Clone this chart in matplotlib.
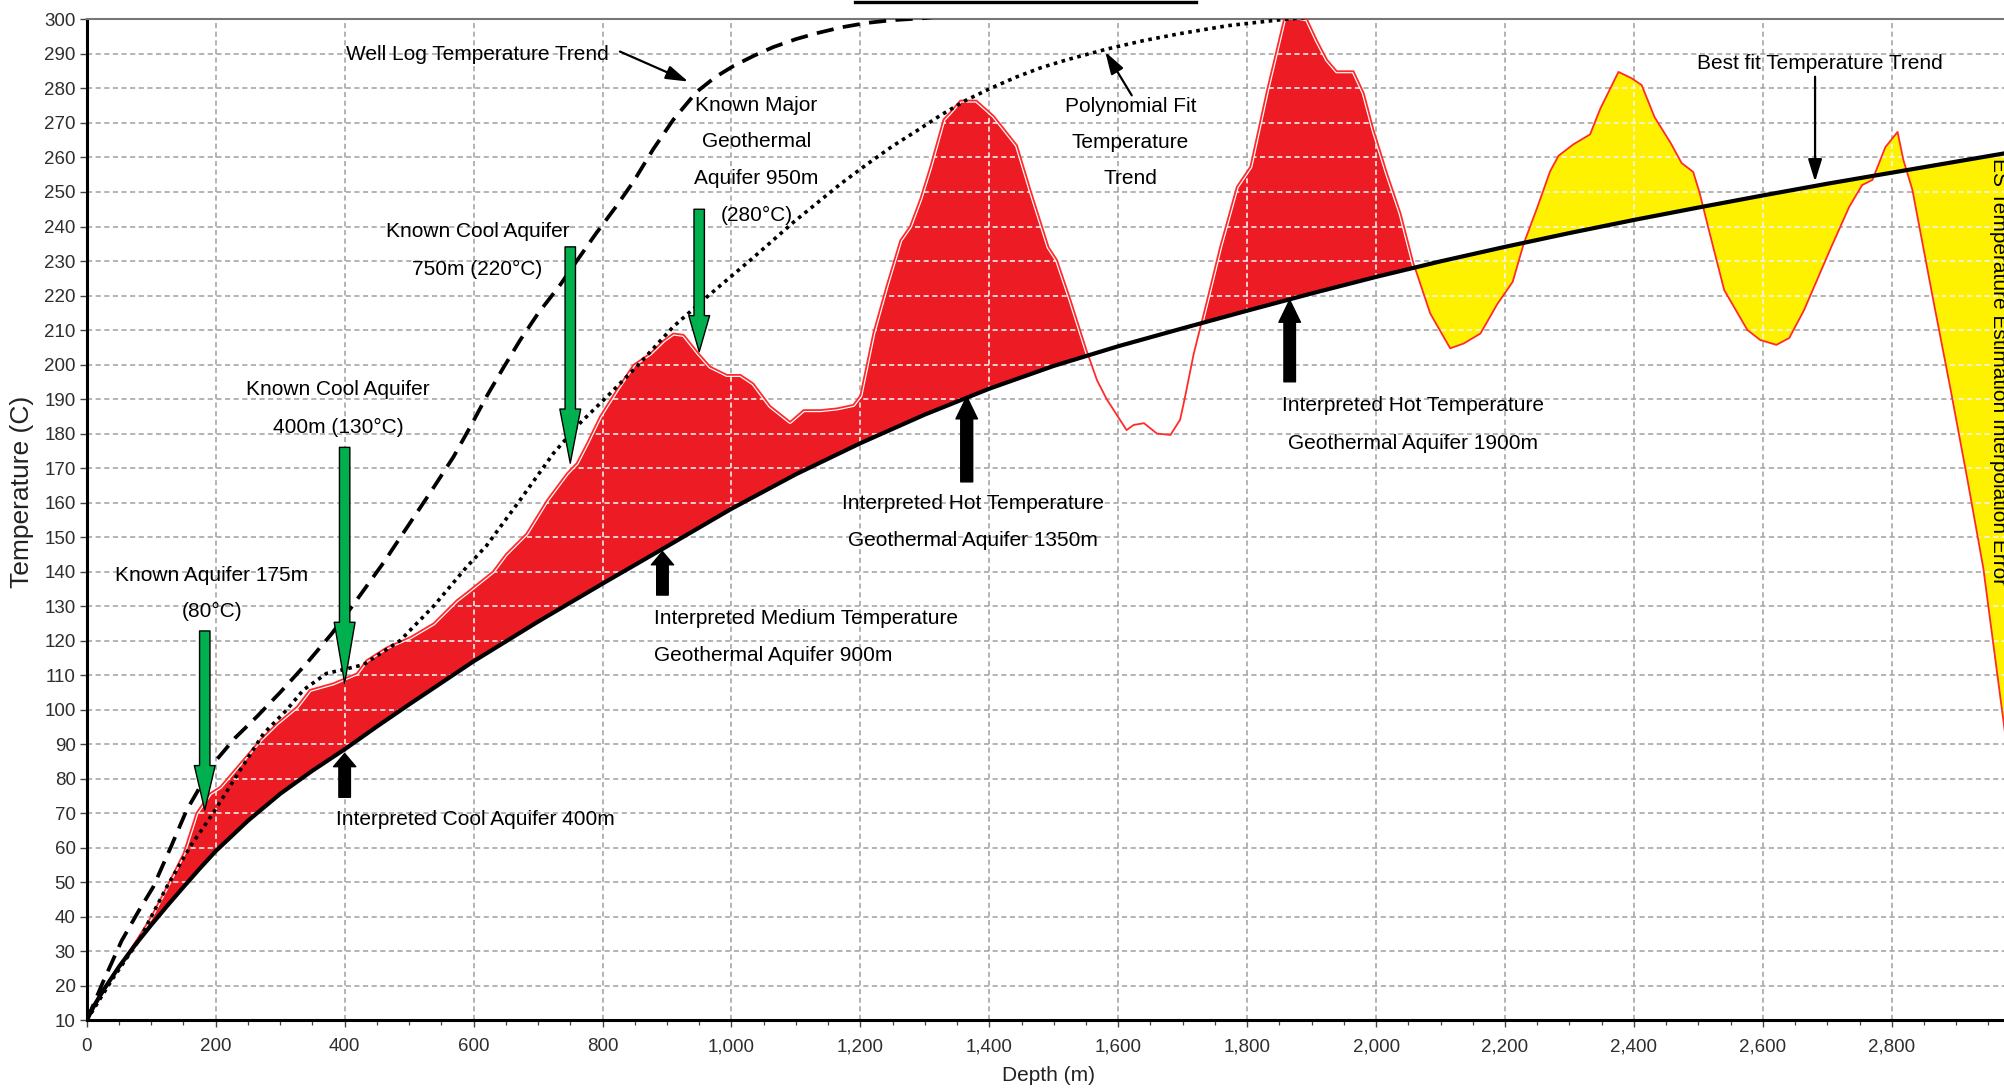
import numpy as np
import matplotlib
matplotlib.use("Agg")
import matplotlib.pyplot as plt
from matplotlib.ticker import MultipleLocator, FixedLocator, FuncFormatter
from matplotlib.path import Path
from matplotlib.patches import PathPatch
from matplotlib.lines import Line2D

plt.rcParams['font.family'] = ['Liberation Sans', 'DejaVu Sans']

# ---------------------------------------------------------------- data
# measured (ES estimated) temperature log
log_depth = [0, 40, 80, 100, 124, 150, 170, 191, 207, 238,
             269, 295, 326, 346, 382, 400, 419, 434, 465, 502,
             538, 574, 590, 630, 650, 682, 714, 745, 760, 776,
             796, 822, 848, 874, 895, 910, 926, 949, 967, 993,
             1014, 1034, 1060, 1091, 1112, 1138, 1164, 1189, 1200, 1205,
             1220, 1241, 1262, 1277, 1293, 1308, 1329, 1339, 1355, 1380,
             1407, 1443, 1464, 1492, 1505, 1526, 1551, 1567, 1582, 1593,
             1613, 1624, 1640, 1660, 1681, 1696, 1703, 1717, 1738, 1758,
             1784, 1805, 1831, 1857, 1862, 1880, 1893, 1908, 1924, 1939,
             1965, 1981, 1996, 2017, 2038, 2058, 2084, 2115, 2136, 2162,
             2188, 2212, 2229, 2250, 2270, 2283, 2306, 2332, 2348, 2376,
             2396, 2412, 2432, 2457, 2474, 2492, 2502, 2515, 2540, 2576,
             2596, 2621, 2641, 2664, 2706, 2734, 2754, 2770, 2790, 2809,
             2818, 2832, 2864, 2891, 2917, 2942, 2973, 2995]
log_temp = [10, 22.5, 34, 40, 48.6, 58.3, 70, 75.7, 77.6, 84.4,
            91.2, 96, 100.8, 105.7, 107.6, 109, 110.5, 114.3, 118, 121,
            125, 131.7, 134, 140, 145, 151, 160.7, 168.5, 171.4, 177.2,
            184.9, 192.6, 199.9, 203.2, 207, 209, 208.6, 203.2, 199.4, 197,
            197, 194.5, 188, 183.4, 186.8, 186.8, 187.3, 188.3, 191, 195.5,
            209, 223, 236, 240, 248, 257, 271, 273, 276.5, 276.5,
            272, 263.5, 250.5, 234, 230.3, 218.7, 204, 195.5, 190, 186.8,
            181, 182.5, 183, 180, 179.6, 184, 190, 203, 218.7, 234,
            251.5, 257.3, 279.6, 299.9, 301, 300.5, 300, 294, 288.3, 285,
            285, 278.6, 268, 255.4, 243.8, 229.3, 214.8, 204.7, 206.1, 209,
            217.5, 224, 235, 245.5, 256, 260.5, 263.8, 266.7, 274.2, 284.8,
            283, 281, 271.7, 264.2, 258.4, 255.8, 249.7, 239.9, 221.6, 210,
            207.1, 205.7, 207.7, 215.8, 234, 245.7, 252, 253.5, 263, 267.4,
            259.3, 250.6, 219, 193, 167, 141, 97, 66]

# best fit temperature trend
fit_depth = [0, 10, 25, 50, 75, 100, 125, 150, 175, 200, 250, 300, 350, 400, 450,
             500, 600, 700, 800, 900, 1000, 1100, 1200, 1300, 1400, 1500, 1600,
             1700, 1800, 1900, 2000, 2100, 2200, 2300, 2400, 2500, 2600, 2700,
             2800, 2900, 3000]
fit_temp = [10, 13.8, 18.5, 25.5, 31.8, 37.6, 43.2, 48.6, 53.9, 59, 67.8, 75.6, 82.3,
            88.5, 95.1, 101.5, 114, 125.5, 136.5, 147.3, 158.2, 168.2, 177.2, 185.5,
            193, 199.6, 205.3, 210.5, 215.6, 220.6, 225.4, 229.9, 234.1, 238.1, 241.9,
            245.5, 249, 252.4, 255.6, 258.8, 262]

# well log temperature trend
well_depth = [0, 25, 54, 80, 103, 130, 155, 180, 201, 230, 264, 300, 341, 380, 413,
              460, 501, 535, 569, 595, 620, 646, 672, 700, 734, 760, 790, 820, 848,
              879, 910, 946, 975, 1003, 1035, 1065, 1100, 1132, 1170, 1210, 1250,
              1293, 1360]
well_temp = [10, 21, 33, 41.5, 48.6, 60, 70.9, 79, 85.4, 91.8, 98, 105, 113.4, 122,
             130.3, 142.5, 154, 163.5, 173.3, 182, 190.7, 199, 207, 214.8, 223, 230,
             238, 245.5, 253, 262.5, 271, 279, 283.3, 286.5, 289.5, 292, 294.3, 296,
             297.7, 299, 299.8, 300.3, 301.5]

# polynomial fit temperature trend
poly_depth = [0, 40, 82, 124, 160, 196, 238, 274, 310, 336, 372, 398, 429, 486, 538,
              590, 620, 672, 724, 765, 807, 853, 910, 962, 1034, 1096, 1138, 1169,
              1210, 1250, 1288, 1325, 1365, 1405, 1443, 1480, 1520, 1582, 1640, 1696,
              1770, 1851, 1920]
poly_temp = [10, 22, 33.5, 48.6, 60.2, 70, 82.5, 93, 99.9, 105.7, 110.5, 111.6, 113, 120,
             130, 141.5, 147.5, 160.7, 174.3, 183, 190.7, 199.4, 211, 219.6, 231, 241.2,
             247.6, 252.3, 258, 263.3, 267.8, 272.3, 276.7, 280.3, 283.4, 286, 288.3,
             291.4, 293.9, 295.9, 298.2, 299.9, 301]

# interpretation zones (depth, m)
red_zone_end = 2100
yellow_zone_start = 2050

x_major = list(range(0, 3000, 200))
y_major = list(range(10, 301, 10))

# ---------------------------------------------------------------- figure
fig = plt.figure(figsize=(20.04, 10.88), dpi=100)
ax = fig.add_axes([0.04331, 0.06232, 0.9602, 0.9198])
ax.set_xlim(0, 2985)
ax.set_ylim(10, 300)

grid_kw = dict(lw=1.15, dashes=(3.2, 2.2))
for x in x_major:
    ax.axvline(x, color='#a3a3a3', zorder=0.5, **grid_kw)
for y in y_major:
    ax.axhline(y, color='#a3a3a3', zorder=0.5, **grid_kw)

d = np.array(log_depth, float)
t = np.array(log_temp, float)
base = np.interp(d, fit_depth, fit_temp)

yellow = ax.fill_between(d, t, base, where=d >= yellow_zone_start, interpolate=True,
                         facecolor='#fff200', edgecolor='none', zorder=1)
red = ax.fill_between(d, t, base, where=(t >= base) & (d < red_zone_end), interpolate=True,
                      facecolor='#ed1c24', edgecolor='none', zorder=1.1)

clip_red = PathPatch(Path.make_compound_path(*red.get_paths()), transform=ax.transData)
clip_all = PathPatch(Path.make_compound_path(*(red.get_paths() + yellow.get_paths())),
                     transform=ax.transData)

# light grid over the filled zones
for x in x_major:
    ln = ax.axvline(x, color='#f4f4f4', zorder=1.3, **grid_kw)
    ln.set_clip_path(clip_all)
for y in y_major:
    ln = ax.axhline(y, color='#f4f4f4', zorder=1.3, **grid_kw)
    ln.set_clip_path(clip_all)

# measured log edge
hl, = ax.plot(d, t, color='white', lw=3.0, zorder=1.5)
hl.set_clip_path(clip_red)
ax.plot(d, t, color='#ff2b2b', lw=1.3, zorder=3)

# trends
ax.plot(fit_depth, fit_temp, color='black', lw=3.0, zorder=4, solid_capstyle='round')
ax.plot(well_depth, well_temp, color='black', lw=2.7, dashes=(4.6, 2.5), zorder=4)
ax.plot(poly_depth, poly_temp, color='black', lw=2.6, dashes=(1.0, 1.25), zorder=4)

# ---------------------------------------------------------------- axes styling
ax.xaxis.set_major_locator(FixedLocator(x_major))
ax.xaxis.set_minor_locator(MultipleLocator(50))
ax.yaxis.set_major_locator(FixedLocator(y_major))
ax.xaxis.set_major_formatter(FuncFormatter(lambda v, p: f'{v:,.0f}'))
ax.tick_params(axis='both', which='major', length=5, width=1.0, color='#444444',
               labelsize=13.5, labelcolor='#2e2e2e')
ax.tick_params(axis='x', which='major', pad=8)
ax.tick_params(axis='y', which='major', pad=3)
ax.tick_params(axis='x', which='minor', length=3.5, width=0.9, color='#444444')

for s in ('left', 'bottom'):
    ax.spines[s].set_color('black')
    ax.spines[s].set_linewidth(2.2)
ax.spines['top'].set_color('#777777')
ax.spines['top'].set_linewidth(1.5)
ax.spines['right'].set_visible(False)

ax.set_xlabel('Depth (m)', fontsize=15, color='#222222')
ax.xaxis.set_label_coords(0.5, -0.0548)
ax.xaxis.label.set_va('center')
ax.set_ylabel('Temperature (C)', fontsize=19, color='#222222')
ax.yaxis.set_label_coords(-0.0335, 0.528)
ax.yaxis.label.set_va('center')

# ---------------------------------------------------------------- annotations
fs = 15


def block_arrow(x, y_tail, y_tip, fc, head_len, head_w, shaft_w):
    style = (f'simple,head_length={head_len / 10:.3f},'
             f'head_width={head_w / 10:.3f},tail_width={shaft_w / 10:.3f}')
    ax.annotate('', xy=(x, y_tip), xytext=(x, y_tail),
                arrowprops=dict(arrowstyle=style, mutation_scale=10, fc=fc,
                                ec='black', lw=1.0, shrinkA=0, shrinkB=0),
                zorder=7)


def thin_arrow(start, tip):
    ax.annotate('', xy=tip, xytext=start,
                arrowprops=dict(arrowstyle='-|>,head_length=1.35,head_width=0.42',
                                mutation_scale=10, color='black', lw=1.6,
                                shrinkA=0, shrinkB=0),
                zorder=7)


green = '#00b04f'
block_arrow(183, 122.8, 70.9, green, 32, 15, 7.5)
block_arrow(400, 176, 107.6, green, 44, 15, 7.5)
block_arrow(750, 234.1, 171.4, green, 39, 15, 7.5)
block_arrow(950, 245, 203.7, green, 26, 15, 7.5)

block_arrow(400, 74.6, 87.3, 'black', 9.5, 16, 8.3)
block_arrow(893, 133.2, 145.8, 'black', 9.5, 16, 8.3)
block_arrow(1365, 166, 190.7, 'black', 16, 15.5, 8.6)
block_arrow(1866, 195, 218.7, 'black', 16, 15.5, 8.3)

thin_arrow((827, 290.7), (933, 282))
thin_arrow((1621, 278), (1580, 290.6))
thin_arrow((2681, 283.4), (2681, 253))

txt = dict(fontsize=fs, color='black', zorder=8)
ax.text(402, 289.7, 'Well Log Temperature Trend', ha='left', va='center', **txt)
for yy, s in zip([275.2, 264.6, 253.8, 243.3],
                 ['Known Major', 'Geothermal', 'Aquifer 950m', '(280°C)']):
    ax.text(1039, yy, s, ha='center', va='center', **txt)
for yy, s in zip([274.9, 264.3, 253.8], ['Polynomial Fit', 'Temperature', 'Trend']):
    ax.text(1619, yy, s, ha='center', va='center', **txt)
ax.text(2688, 287.3, 'Best fit Temperature Trend', ha='center', va='center', **txt)
ax.text(606, 238.5, 'Known Cool Aquifer', ha='center', va='center', **txt)
ax.text(606, 227.6, '750m (220°C)', ha='center', va='center', **txt)
ax.text(390, 192.7, 'Known Cool Aquifer', ha='center', va='center', **txt)
ax.text(390, 181.9, '400m (130°C)', ha='center', va='center', **txt)
ax.text(194, 139, 'Known Aquifer 175m', ha='center', va='center', **txt)
ax.text(194, 128.4, '(80°C)', ha='center', va='center', **txt)
ax.text(387, 68.3, 'Interpreted Cool Aquifer 400m', ha='left', va='center', **txt)
ax.text(880, 126.3, 'Interpreted Medium Temperature', ha='left', va='center', **txt)
ax.text(880, 115.6, 'Geothermal Aquifer 900m', ha='left', va='center', **txt)
ax.text(1375, 159.8, 'Interpreted Hot Temperature', ha='center', va='center', **txt)
ax.text(1375, 149.1, 'Geothermal Aquifer 1350m', ha='center', va='center', **txt)
ax.text(2058, 188, 'Interpreted Hot Temperature', ha='center', va='center', **txt)
ax.text(2058, 177.2, 'Geothermal Aquifer 1900m', ha='center', va='center', **txt)
ax.text(2957.7, 259.9, 'ES Temperature Estimation Interpolation Error', rotation=-90,
        rotation_mode='anchor', ha='left', va='baseline', clip_on=False, **txt)

# underline of the heading above the plot area
fig.add_artist(Line2D([855 / 2004, 1196 / 2004], [1 - 2 / 1088] * 2, color='black',
                      lw=2.4, transform=fig.transFigure))

fig.savefig('out.png', dpi=100, facecolor='white')
